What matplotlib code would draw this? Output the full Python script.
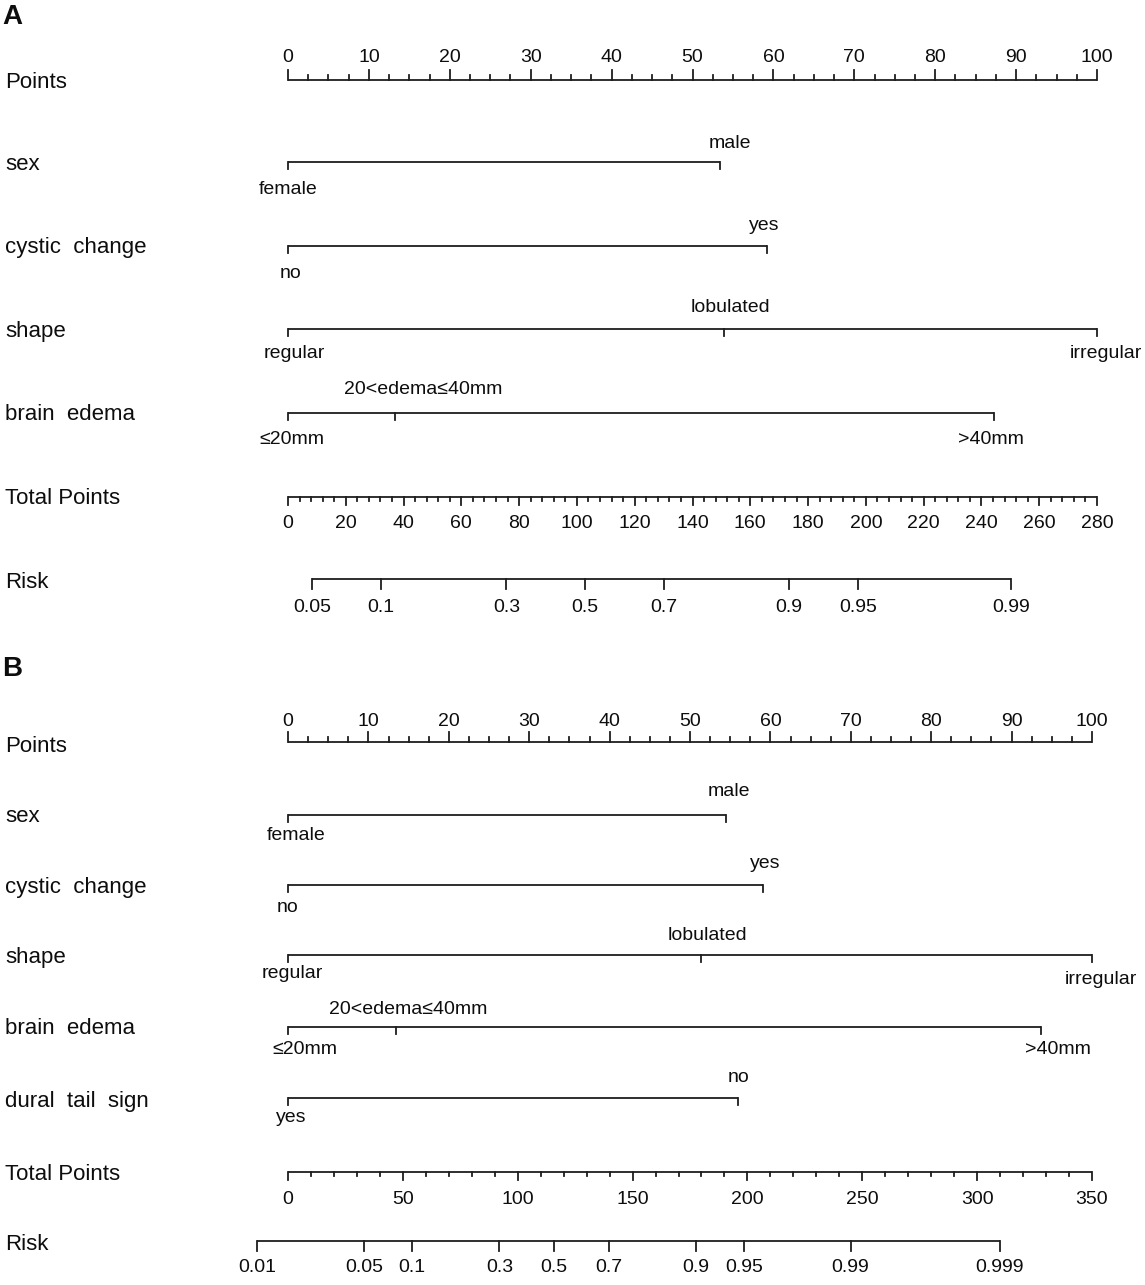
import numpy as np
import matplotlib
matplotlib.use("Agg")
import matplotlib.pyplot as plt

plt.rcParams['font.family'] = ['Liberation Sans', 'DejaVu Sans']

# ---------------- data ----------------
points_ticks = np.arange(0, 101, 10)
points_minor = np.arange(0, 100.01, 2.5)

# Panel A
a_sex_levels = ["female", "male"];           a_sex_pts = [0, 53.4]
a_cyst_levels = ["no", "yes"];               a_cyst_pts = [0, 59.2]
a_shape_levels = ["regular", "lobulated", "irregular"]; a_shape_pts = [0, 53.9, 100]
a_edema_levels = ["≤20mm", "20<edema≤40mm", ">40mm"];   a_edema_pts = [0, 13.2, 87.3]
a_total_ticks = np.arange(0, 281, 20)
a_total_minor = np.arange(0, 280.1, 4)
a_total_max = 280
a_risk_ticks = [0.05, 0.1, 0.3, 0.5, 0.7, 0.9, 0.95, 0.99]
a_risk_labels = ["0.05", "0.1", "0.3", "0.5", "0.7", "0.9", "0.95", "0.99"]
a_tp_at_half = 102.8
a_tp_per_logit = 32.1

# Panel B
b_sex_levels = ["female", "male"];           b_sex_pts = [0, 54.5]
b_cyst_levels = ["no", "yes"];               b_cyst_pts = [0, 59.1]
b_shape_levels = ["regular", "lobulated", "irregular"]; b_shape_pts = [0, 51.4, 100]
b_edema_levels = ["≤20mm", "20<edema≤40mm", ">40mm"];   b_edema_pts = [0, 13.4, 93.6]
b_dural_levels = ["yes", "no"];              b_dural_pts = [0, 56.0]
b_total_ticks = np.arange(0, 351, 50)
b_total_minor = np.arange(0, 350.1, 10)
b_total_max = 350
b_risk_ticks = [0.01, 0.05, 0.1, 0.3, 0.5, 0.7, 0.9, 0.95, 0.99, 0.999]
b_risk_labels = ["0.01", "0.05", "0.1", "0.3", "0.5", "0.7", "0.9", "0.95", "0.99", "0.999"]
b_tp_at_half = 115.8
b_tp_per_logit = 28.1

# ---------------- style / layout ----------------
W, H = 1145, 1285
LC = "#1e1e1e"
TC = "#0d0d0d"
LW = 1.3
FS_NAME = 16
FS_TICK = 14
X0 = 288  # pixel of 0 points
TDY = 2   # visual text centring shift (px)

fig = plt.figure(figsize=(W / 100, H / 100), dpi=100)


def make_ax(top, bottom, x100):
    s = (x100 - X0) / 100.0
    ax = fig.add_axes([0, 1 - bottom / H, 1, (bottom - top) / H])
    ax.set_xlim(-X0 / s, (W - X0) / s)
    ax.set_ylim(bottom, top)
    ax.axis("off")
    return ax, s


def px(ax_s, dx):
    return dx / ax_s


def txt(ax, x, y, s, fs, ha="center", **kw):
    ax.text(x, y + TDY, s, ha=ha, va="center", fontsize=fs, color=TC, **kw)


def name(ax, s, y, label):
    txt(ax, px(s, 5) - X0 / s, y, label, FS_NAME, ha="left")


def points_axis(ax, s, y, label_y, name_y):
    ax.plot([0, 100], [y, y], color=LC, lw=LW, solid_capstyle="butt")
    for t in points_minor:
        major = abs(t / 10 - round(t / 10)) < 1e-6
        L = 10 if major else 5.5
        ax.plot([t, t], [y, y - L], color=LC, lw=LW)
    for t in points_ticks:
        txt(ax, t, label_y, f"{t:g}", FS_TICK)
    name(ax, s, name_y, "Points")


def var_axis(ax, s, y, label, levels, pts, side, offs, up=22, down=22, name_y=None):
    ax.plot([min(pts), max(pts)], [y, y], color=LC, lw=LW, solid_capstyle="butt")
    for i, (lev, p) in enumerate(zip(levels, pts)):
        ax.plot([p, p], [y, y + 6.5], color=LC, lw=LW)
        dx, dy = offs[i]
        ty = (y - up + dy) if side[i] == "a" else (y + down + dy)
        txt(ax, p + px(s, dx), ty, lev, FS_TICK)
    name(ax, s, y if name_y is None else name_y, label)


def total_axis(ax, s, y, ticks, minor, tmax, label_y, name_y):
    f = 100.0 / tmax
    ax.plot([0, 100], [y, y], color=LC, lw=LW, solid_capstyle="butt")
    for t in minor:
        major = np.any(np.isclose(ticks, t))
        L = 8 if major else 4
        ax.plot([t * f, t * f], [y, y + L], color=LC, lw=LW)
    for t in ticks:
        txt(ax, t * f, label_y, f"{t:g}", FS_TICK)
    name(ax, s, name_y, "Total Points")


def risk_axis(ax, s, y, ticks, labels, tp_half, tp_logit, tmax, label_y, name_y):
    f = 100.0 / tmax
    p = np.array(ticks)
    tp = tp_half + tp_logit * np.log(p / (1 - p))
    xs = tp * f
    ax.plot([xs.min(), xs.max()], [y, y], color=LC, lw=LW, solid_capstyle="butt")
    for x, lab in zip(xs, labels):
        ax.plot([x, x], [y, y + 10], color=LC, lw=LW)
        txt(ax, x, label_y, lab, FS_TICK)
    name(ax, s, name_y, "Risk")


# ---------------- panel A ----------------
axA, sA = make_ax(0, 640, 1097)
txt(axA, px(sA, 2) - X0 / sA, 15, "A", 20, ha="left", fontweight="bold")
points_axis(axA, sA, 80, 55, 80)
var_axis(axA, sA, 162, "sex", a_sex_levels, a_sex_pts, "ba", [(0, 3), (10, 2)], up=22, down=22)
var_axis(axA, sA, 246, "cystic  change", a_cyst_levels, a_cyst_pts, "ba", [(3, 3), (-3, 0)], up=22, down=22)
var_axis(axA, sA, 329, "shape", a_shape_levels, a_shape_pts, "bab", [(6, 0), (6, 0), (9, 0)], up=23, down=22)
var_axis(axA, sA, 413, "brain  edema", a_edema_levels, a_edema_pts, "bab", [(4, 2), (28, 0), (-3, 2)], up=25, down=22)
total_axis(axA, sA, 497, a_total_ticks, a_total_minor, a_total_max, 522, 497)
risk_axis(axA, sA, 579, a_risk_ticks, a_risk_labels, a_tp_at_half, a_tp_per_logit, a_total_max, 605, 581)

# ---------------- panel B ----------------
axB, sB = make_ax(640, 1285, 1092)
txt(axB, px(sB, 2) - X0 / sB, 667, "B", 20, ha="left", fontweight="bold")
points_axis(axB, sB, 742, 719, 744)
var_axis(axB, sB, 815, "sex", b_sex_levels, b_sex_pts, "ba", [(8, -2), (3, -4)], up=22, down=20)
var_axis(axB, sB, 885, "cystic  change", b_cyst_levels, b_cyst_pts, "ba", [(0, 1), (2, -1)], up=22, down=20)
var_axis(axB, sB, 955, "shape", b_shape_levels, b_shape_pts, "bab", [(4, -3), (6, 1), (9, 3)], up=22, down=20)
var_axis(axB, sB, 1027, "brain  edema", b_edema_levels, b_edema_pts, "bab", [(17, 1), (12, 2), (17, 1)], up=22, down=20)
var_axis(axB, sB, 1098, "dural  tail  sign", b_dural_levels, b_dural_pts, "ba", [(3, -3), (0, -1)], up=22, down=20, name_y=1100)
total_axis(axB, sB, 1172, b_total_ticks, b_total_minor, b_total_max, 1197, 1172)
risk_axis(axB, sB, 1241, b_risk_ticks, b_risk_labels, b_tp_at_half, b_tp_per_logit, b_total_max, 1266, 1242)

fig.savefig("out.png", dpi=100, facecolor="white")
